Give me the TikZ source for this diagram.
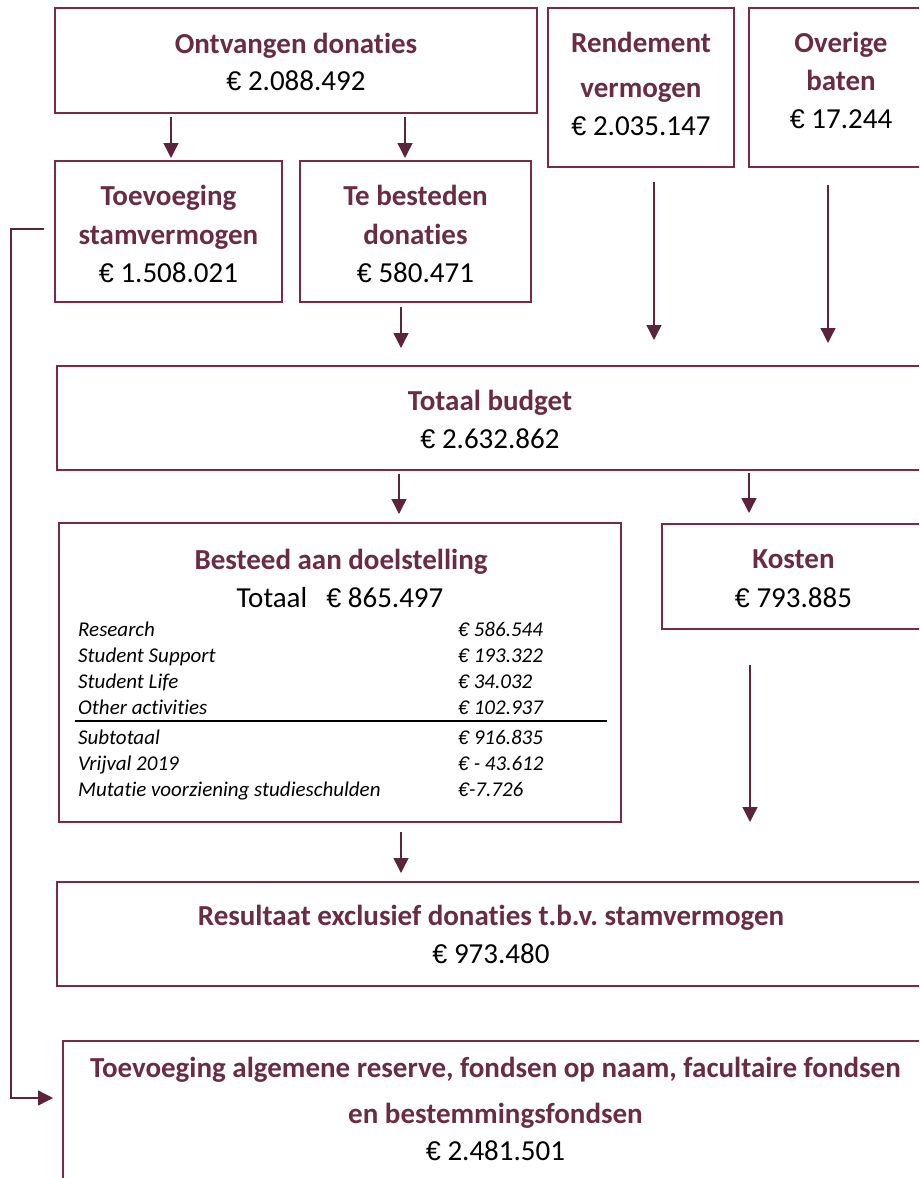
\documentclass[tikz,border=0pt]{standalone}
\usepackage{fontspec}
\setmainfont{Carlito}[Ligatures=NoCommon]
\newfontfamily\eurfont{Liberation Sans}[Scale=0.93]
\newcommand{\EUR}{{\eurfont €}}
\usetikzlibrary{arrows.meta,calc}
\definecolor{boxcol}{RGB}{122,42,72}
\definecolor{titlecol}{RGB}{106,44,68}
\definecolor{arrcol}{RGB}{92,36,58}
\tikzset{
  box/.style={draw=boxcol, line width=2pt, rectangle, inner sep=0pt, outer sep=0pt},
  ttl/.style={font=\frenchspacing\bfseries\fontsize{29}{35}\selectfont, text=titlecol, inner sep=0pt, anchor=base},
  val/.style={font=\fontsize{29}{35}\selectfont, text=black, inner sep=0pt, anchor=base},
  tbl/.style={font=\itshape\fontsize{21}{25}\selectfont, text=black, inner sep=0pt, anchor=base west},
  arr/.style={draw=arrcol, line width=1.4pt, -{Triangle[width=15pt,length=15pt]}},
}
\begin{document}
\frenchspacing
\begin{tikzpicture}[x=1pt,y=-1pt]
\useasboundingbox (0,0) rectangle (919,1178);
\fill[white] (0,0) rectangle (919,1178);
\clip (0,0) rectangle (919,1178);

% boxes
\node[box, minimum width=482pt, minimum height=105pt] (ontv) at (296,60.5) {};
\node[box, minimum width=186pt, minimum height=159pt] (rend) at (641,87.5) {};
\node[box, minimum width=184pt, minimum height=159pt] (over) at (841,87.5) {};
\node[box, minimum width=227pt, minimum height=141pt] (stam) at (168.5,231.5) {};
\node[box, minimum width=231pt, minimum height=141pt] (tb) at (415.5,231.5) {};
\node[box, minimum width=866pt, minimum height=104pt] (tot) at (490,418) {};
\node[box, minimum width=562pt, minimum height=299pt] (best) at (340,672.5) {};
\node[box, minimum width=263pt, minimum height=105pt] (kost) at (793.5,576.5) {};
\node[box, minimum width=868pt, minimum height=104pt] (res) at (491,934) {};
\node[box, minimum width=865pt, minimum height=159pt] (toev) at (495.5,1120.5) {};

% texts
\node[ttl] (ontvT) at (296,53) {Ontvangen donaties};
\node[val] (ontvV) at (296,90) {\EUR\ 2.088.492};
\node[ttl] (rendT1) at (641,52) {Rendement};
\node[ttl] (rendT2) at (641,97) {vermogen};
\node[val] (rendV) at (641,135) {\EUR\ 2.035.147};
\node[ttl] (overT1) at (841,52) {Overige};
\node[ttl] (overT2) at (841,90) {baten};
\node[val] (overV) at (841,128) {\EUR\ 17.244};
\node[ttl] (stamT1) at (168.5,205) {Toevoeging};
\node[ttl] (stamT2) at (168.5,244) {stamvermogen};
\node[val] (stamV) at (168.5,282) {\EUR\ 1.508.021};
\node[ttl] (tbT1) at (415.5,205) {Te besteden};
\node[ttl] (tbT2) at (415.5,244) {donaties};
\node[val] (tbV) at (415.5,282) {\EUR\ 580.471};
\node[ttl] (totT) at (490,410) {Totaal budget};
\node[val] (totV) at (490,448) {\EUR\ 2.632.862};
\node[ttl] (bestT) at (341,569) {Besteed aan doelstelling};
\node[val] (bestV) at (340,607) {Totaal\hspace{19pt}\EUR\ 865.497};
\node[tbl] (r1) at (78,636) {Research};
\node[tbl] (r2) at (78,662) {Student Support};
\node[tbl] (r3) at (78,688) {Student Life};
\node[tbl] (r4) at (78,714) {Other activities};
\node[tbl] (r5) at (78,744) {Subtotaal};
\node[tbl] (r6) at (78,770) {Vrijval 2019};
\node[tbl] (r7) at (78,796) {Mutatie voorziening studieschulden};
\node[tbl] (v1) at (458,636) {\EUR\ 586.544};
\node[tbl] (v2) at (458,662) {\EUR\ 193.322};
\node[tbl] (v3) at (458,688) {\EUR\ 34.032};
\node[tbl] (v4) at (458,714) {\EUR\ 102.937};
\node[tbl] (v5) at (458,744) {\EUR\ 916.835};
\node[tbl] (v6) at (458,770) {\EUR\ - 43.612};
\node[tbl] (v7) at (458,796) {\EUR-7.726};
\draw[black, line width=1.5pt] ($(best.west |- 0,721)+(16,0)$) -- ($(best.east |- 0,721)+(-14,0)$);
\node[ttl] (kostT) at (793.5,568) {Kosten};
\node[val] (kostV) at (793.5,607) {\EUR\ 793.885};
\node[ttl] (resT) at (491,925) {Resultaat exclusief donaties t.b.v. stamvermogen};
\node[val] (resV) at (491,963) {\EUR\ 973.480};
\node[ttl] (toevT1) at (495.5,1077) {Toevoeging algemene reserve, fondsen op naam, facultaire fondsen};
\node[ttl] (toevT2) at (495.5,1123) {en bestemmingsfondsen};
\node[val] (toevV) at (495.5,1160) {\EUR\ 2.481.501};

% arrows
\draw[arr] ($(ontv.south -| 171,0)+(0,4)$) -- ($(stam.north -| 171,0)+(0,-3)$);
\draw[arr] ($(ontv.south -| 405,0)+(0,4)$) -- ($(tb.north -| 405,0)+(0,-3)$);
\draw[arr] ($(tb.south -| 401,0)+(0,5)$) -- ($(tot.north -| 401,0)+(0,-18)$);
\draw[arr] ($(rend.south -| 654,0)+(0,15)$) -- ($(tot.north -| 654,0)+(0,-26)$);
\draw[arr] ($(over.south -| 828,0)+(0,18)$) -- ($(tot.north -| 828,0)+(0,-23)$);
\draw[arr] ($(tot.south -| 399,0)+(0,4)$) -- ($(best.north -| 399,0)+(0,-9)$);
\draw[arr] ($(tot.south -| 749,0)+(0,3)$) -- ($(kost.north -| 749,0)+(0,-11)$);
\draw[arr] ($(kost.south -| 750,0)+(0,36)$) -- ($(res.north -| 750,0)+(0,-60)$);
\draw[arr] ($(best.south -| 401,0)+(0,10)$) -- ($(res.north -| 401,0)+(0,-9)$);
\draw[arr] ($(stam.west)+(-11,-2.5)$) -- ++(-33,0) |- ($(toev.west |- 0,1098)+(-10,0)$);
\end{tikzpicture}
\end{document}
